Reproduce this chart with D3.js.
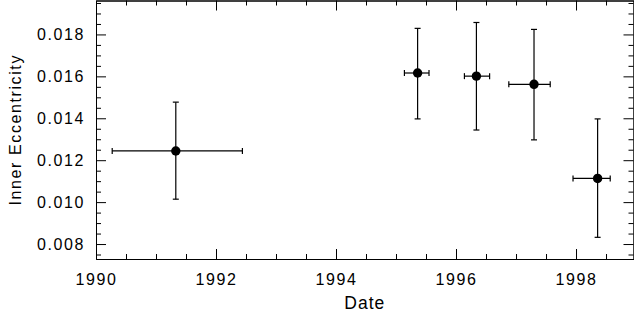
<!DOCTYPE html>
<html>
<head>
<meta charset="utf-8">
<script src="https://d3js.org/d3.v7.min.js"></script>
<style>
  body { margin: 0; background: #fff; }
  svg text { font-family: "Liberation Sans", Arial, sans-serif; font-size: 16px; letter-spacing: 1.6px; fill: #000; }
</style>
</head>
<body>
<script>
// Data
const dates = [1991.33, 1995.36, 1996.34, 1997.30, 1998.36];
const ecc = [0.01244, 0.01616, 0.01601, 0.01562, 0.01113];
const dateErrLo = [1.06, 0.22, 0.20, 0.42, 0.41];
const dateErrHi = [1.11, 0.19, 0.22, 0.27, 0.21];
const eccErrLo = [0.00230, 0.00219, 0.00257, 0.00265, 0.00281];
const eccErrHi = [0.00233, 0.00213, 0.00256, 0.00262, 0.00284];
const xTicks = [1990, 1992, 1994, 1996, 1998];
const yTicks = [0.008, 0.010, 0.012, 0.014, 0.016, 0.018];

const width = 634, height = 320;
const mLeft = 96, mRight = 633.5, mTop = 0.5, mBottom = 259;

const x = d3.scaleLinear().domain([1990, 1998.958]).range([mLeft, mRight]);
const y = d3.scaleLinear().domain([0.007286, 0.019619]).range([mBottom, mTop]);

const xMinor = d3.range(1990.5, 1999, 0.5).filter(d => d % 2 !== 0);
const yMinor = d3.range(0.0075, 0.0196, 0.0005).filter(d => !yTicks.some(t => Math.abs(t - d) < 1e-6));

const svg = d3.select("body").append("svg").attr("width", width).attr("height", height);

function styleAxis(g) {
  g.selectAll("path.domain").attr("stroke", "#000").attr("stroke-width", 1);
  g.selectAll(".tick line").attr("stroke", "#000").attr("stroke-width", 1);
  g.selectAll("text").attr("font-family", null).attr("font-size", null);
}

// bottom axis
svg.append("g").attr("transform", `translate(0,${mBottom})`)
  .call(d3.axisBottom(x).tickValues(xTicks).tickFormat(d3.format("d")).tickSizeInner(-10).tickSizeOuter(0).tickPadding(15))
  .call(styleAxis);
svg.append("g").attr("transform", `translate(0,${mBottom})`)
  .call(d3.axisBottom(x).tickValues(xMinor).tickFormat("").tickSizeInner(-5).tickSizeOuter(0))
  .call(styleAxis);
// top axis
svg.append("g").attr("transform", `translate(0,${mTop})`)
  .call(d3.axisTop(x).tickValues(xTicks).tickFormat("").tickSizeInner(-10).tickSizeOuter(0))
  .call(styleAxis);
svg.append("g").attr("transform", `translate(0,${mTop})`)
  .call(d3.axisTop(x).tickValues(xMinor).tickFormat("").tickSizeInner(-5).tickSizeOuter(0))
  .call(styleAxis);
// left axis
svg.append("g").attr("transform", `translate(${mLeft},0)`)
  .call(d3.axisLeft(y).tickValues(yTicks).tickFormat(d3.format(".3f")).tickSizeInner(-10).tickSizeOuter(0).tickPadding(11))
  .call(styleAxis);
svg.append("g").attr("transform", `translate(${mLeft},0)`)
  .call(d3.axisLeft(y).tickValues(yMinor).tickFormat("").tickSizeInner(-5).tickSizeOuter(0))
  .call(styleAxis);
// right axis
svg.append("g").attr("transform", `translate(${mRight},0)`)
  .call(d3.axisRight(y).tickValues(yTicks).tickFormat("").tickSizeInner(-10).tickSizeOuter(0))
  .call(styleAxis);
svg.append("g").attr("transform", `translate(${mRight},0)`)
  .call(d3.axisRight(y).tickValues(yMinor).tickFormat("").tickSizeInner(-5).tickSizeOuter(0))
  .call(styleAxis);

// axis titles
svg.append("text").attr("x", (mLeft + mRight) / 2).attr("y", 309).attr("text-anchor", "middle")
  .style("font-size", "17.5px").style("letter-spacing", "1px").text("Date");
svg.append("text").attr("transform", `translate(21,${(mTop + mBottom) / 2}) rotate(-90)`)
  .attr("text-anchor", "middle").text("Inner Eccentricity");

// error bars
const pts = dates.map((d, i) => ({ d, e: ecc[i], xl: d - dateErrLo[i], xh: d + dateErrHi[i], yl: ecc[i] - eccErrLo[i], yh: ecc[i] + eccErrHi[i] }));
const cap = 3;
const eb = svg.append("g").attr("stroke", "#000").attr("stroke-width", 1.2);
pts.forEach(p => {
  eb.append("line").attr("x1", x(p.d)).attr("x2", x(p.d)).attr("y1", y(p.yl)).attr("y2", y(p.yh));
  eb.append("line").attr("x1", x(p.d) - cap).attr("x2", x(p.d) + cap).attr("y1", y(p.yl)).attr("y2", y(p.yl));
  eb.append("line").attr("x1", x(p.d) - cap).attr("x2", x(p.d) + cap).attr("y1", y(p.yh)).attr("y2", y(p.yh));
  eb.append("line").attr("x1", x(p.xl)).attr("x2", x(p.xh)).attr("y1", y(p.e)).attr("y2", y(p.e));
  eb.append("line").attr("x1", x(p.xl)).attr("x2", x(p.xl)).attr("y1", y(p.e) - cap).attr("y2", y(p.e) + cap);
  eb.append("line").attr("x1", x(p.xh)).attr("x2", x(p.xh)).attr("y1", y(p.e) - cap).attr("y2", y(p.e) + cap);
});

svg.append("g").selectAll("circle").data(pts).join("circle")
  .attr("cx", p => x(p.d)).attr("cy", p => y(p.e)).attr("r", 4.7).attr("fill", "#000");
</script>
</body>
</html>
